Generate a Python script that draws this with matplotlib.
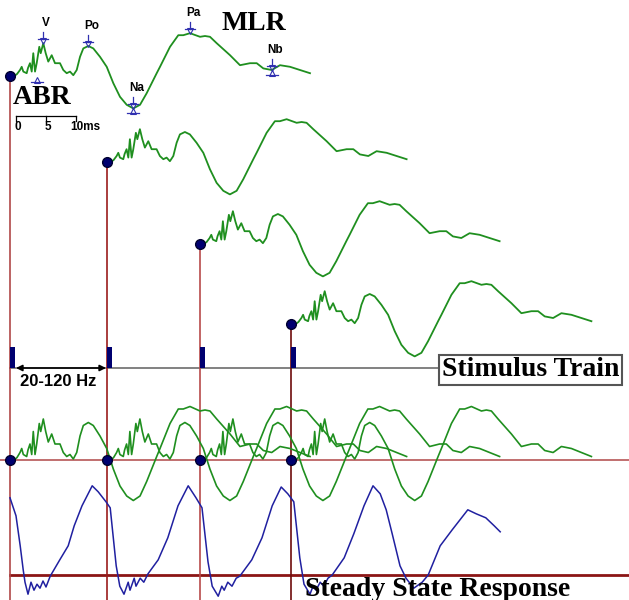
import matplotlib.pyplot as plt

# MLR template: latency (ms) and amplitude (uV)
mlr_ms = [0.0, 0.55, 1.17, 1.67, 1.95, 2.22, 2.78, 3.0, 3.33, 3.62, 3.88, 4.17,
          4.45, 4.88, 5.12, 5.55, 5.95, 6.38, 6.95, 7.5, 8.33, 8.88, 9.45, 10.0,
          10.55, 11.12, 11.67, 12.22, 13.05, 13.88, 15.0, 16.12, 17.22, 18.33,
          19.45, 20.55, 21.67, 22.78, 24.45, 25.0, 26.67, 28.05, 28.88, 30.0,
          31.67, 32.5, 33.33, 34.45, 36.67, 38.33, 40.0, 41.12, 42.22, 43.62,
          45.0, 46.67, 48.33, 50.0]
mlr_amp = [0.0, -0.02, 0.05, 0.15, 0.23, 0.11, 0.07, 0.2, 0.32, 0.11, 0.57, 0.11,
           0.32, 0.73, 0.57, 0.82, 0.57, 0.36, 0.52, 0.32, 0.32, 0.15, 0.07, 0.11,
           0.02, 0.15, 0.48, 0.69, 0.75, 0.69, 0.48, 0.23, -0.18, -0.52,
           -0.72, -0.81, -0.72, -0.43, 0.07, 0.23, 0.73, 1.02, 1.02, 1.07,
           0.98, 1.0, 0.98, 0.82, 0.52, 0.27, 0.32, 0.32, 0.19, 0.15,
           0.27, 0.23, 0.15, 0.07]

# stimulus onsets in the train (ms after first click)
stim_ms = [0.0, 16.1, 31.6, 46.9]

# labelled peaks on the top trace
peak_names = ["V", "Po", "Na", "Pa", "Nb"]
peak_ms = [5.55, 13.05, 20.55, 30.0, 43.6]
peak_amp = [0.82, 0.75, -0.81, 1.07, 0.15]
# markers under the trace
trough_ms = [4.5, 20.55, 43.6]
trough_amp = [-0.03, -0.81, 0.15]

# steady state response (sum of overlapping MLRs)
ssr_ms = [0.0, 1.0, 1.7, 2.2, 2.5, 3.0, 3.5, 4.0, 4.5, 5.0, 5.5, 6.0, 6.7, 8.3,
          9.7, 10.7, 12.0, 13.7, 14.7, 16.0, 16.7, 17.7, 18.3, 19.0, 19.7, 20.0,
          20.7, 21.0, 21.7, 22.3, 23.0, 24.7, 26.3, 28.0, 29.7, 31.0, 32.0, 33.0,
          33.7, 34.7, 35.3, 35.7, 36.3, 37.0, 37.7, 38.3, 40.3, 42.0, 43.7, 45.2,
          46.3, 47.3, 48.3, 49.0, 50.0, 50.5, 51.0, 51.7, 52.3, 53.0, 53.7, 55.7,
          57.3, 59.0, 60.5, 61.7, 62.7, 63.7, 65.0, 66.0, 67.3, 68.7, 69.7, 71.7,
          73.7, 76.3, 77.7, 79.3, 80.7, 81.7]
ssr_amp = [1.93, 1.48, 0.73, 0.13, -0.18, -0.48, -0.18, -0.38, -0.23, -0.33, -0.15,
           -0.3, -0.03, 0.38, 0.73, 1.23, 1.73, 2.23, 2.08, 1.83, 1.68, 0.23, -0.28,
           -0.48, -0.18, -0.38, -0.08, -0.28, -0.08, -0.18, 0.03, 0.38, 0.93, 1.73,
           2.23, 1.93, 1.68, 0.33, -0.28, -0.53, -0.28, -0.38, -0.18, -0.28, -0.08,
           -0.03, 0.38, 0.93, 1.73, 2.2, 2.03, 1.83, 0.43, -0.23, -0.48, -0.28,
           -0.38, -0.18, -0.28, -0.08, 0.0, 0.43, 1.03, 1.73, 2.23, 2.03, 1.63,
           1.03, 0.23, -0.08, -0.33, -0.18, 0.0, 0.73, 1.13, 1.63, 1.53, 1.43,
           1.23, 1.08]

scale_ticks = [0, 5, 10]
scale_labels = ["0", "5", "10ms"]

# layout (pixel space of the figure)
X0 = 10
PX_MS = 6
PX_UV = 40
row_base = [76, 162, 244, 324]
SUPER_BASE = 460
SUPER_PX_UV = 50
SSR_BASE = 575
STIM_Y = 368

green = "#1f8f1f"
navy = "#000070"
serif = "Liberation Serif"
sans = "Liberation Sans"


def xpos(ms, onset=0.0):
    return [X0 + PX_MS * (onset + m) for m in ms]


def ypos(amp, base, scale=PX_UV):
    return [base - scale * a for a in amp]


fig = plt.figure(figsize=(6.29, 6.0), dpi=100)
ax = fig.add_axes([0, 0, 1, 1])
ax.set_xlim(0, 629)
ax.set_ylim(600, 0)
ax.axis("off")

# horizontal reference lines
ax.plot([0, 629], [SUPER_BASE, SUPER_BASE], color="#b04848", lw=1.1, zorder=1)
ax.plot([X0, 629], [SSR_BASE, SSR_BASE], color="#8b1515", lw=2.0, zorder=1)
ax.plot([X0, 438], [STIM_Y, STIM_Y], color="#777777", lw=1.3, zorder=1)

# onsets: vertical lines, individual MLRs, dots
line_cols = ["#b04848", "#9b1c1c", "#b84a4a", "#6e0c0c"]
for i, on in enumerate(stim_ms):
    x = X0 + PX_MS * on
    ax.plot([x, x], [row_base[i], 600], color=line_cols[i], lw=1.2, zorder=1)
    ax.plot(xpos(mlr_ms, on), ypos(mlr_amp, row_base[i]), color=green, lw=1.3, zorder=2)
    ax.plot(xpos(mlr_ms, on), ypos(mlr_amp, SUPER_BASE, SUPER_PX_UV),
            color=green, lw=1.2, zorder=2)
    ax.plot(x, row_base[i], "o", ms=7, color=navy, mec="#000030", zorder=4)
    ax.plot(x, SUPER_BASE, "o", ms=7, color=navy, mec="#000030", zorder=4)

# stimulus pulses
ax.bar(xpos(stim_ms), height=-21, bottom=STIM_Y, width=5, align="edge",
       color=navy, zorder=3)

# steady state response
ax.plot(xpos(ssr_ms), ypos(ssr_amp, SSR_BASE), color="#2020a0", lw=1.1, zorder=2)

# peak markers on the top trace
mark_col = "#3030b0"
for name, m, a in zip(peak_names, peak_ms, peak_amp):
    x = X0 + PX_MS * m
    y = row_base[0] - PX_UV * a
    ax.plot([x, x], [y - 11, y - 4], color=mark_col, lw=0.9, zorder=5)
    ax.plot([x - 5, x + 5], [y - 4, y - 4], color=mark_col, lw=0.9, zorder=5)
    ax.plot(x, y - 2, "v", ms=4.5, mfc="none", mec=mark_col, mew=0.8, zorder=5)
    ax.text(x + 3, y - 20, name, fontsize=8.5, fontweight="bold", family=sans,
            ha="center", va="center", color="black")
for m, a in zip(trough_ms, trough_amp):
    x = X0 + PX_MS * m
    y = row_base[0] - PX_UV * a
    ax.plot(x, y + 2.5, "^", ms=4.5, mfc="none", mec=mark_col, mew=0.8, zorder=5)
    ax.plot([x - 6, x + 6], [y + 4.5, y + 4.5], color=mark_col, lw=0.9, zorder=5)

# ms scale bar
sb_x = [16 + PX_MS * t for t in scale_ticks]
ax.plot([sb_x[0], sb_x[-1]], [116, 116], color="black", lw=0.9)
for xx, lab in zip(sb_x, scale_labels):
    ax.plot([xx, xx], [116, 121], color="black", lw=0.9)
    if lab == "10ms":
        ax.text(xx - 6, 127, lab, fontsize=8.5, fontweight="bold", family=sans,
                ha="left", va="center")
    else:
        ax.text(xx + 2, 127, lab, fontsize=8.5, fontweight="bold", family=sans,
                ha="center", va="center")

# frequency arrow
ax.annotate("", xy=(16, STIM_Y), xytext=(106, STIM_Y),
            arrowprops=dict(arrowstyle="<|-|>", color="black", lw=1.2,
                            mutation_scale=9, shrinkA=0, shrinkB=0))
ax.text(20, 382, "20-120 Hz", fontsize=12, fontweight="bold", family=sans,
        ha="left", va="center")

# big labels
ax.text(222, 23, "MLR", fontsize=20, fontweight="bold", family=serif, va="center")
ax.text(13, 97, "ABR", fontsize=20, fontweight="bold", family=serif, va="center")
ax.text(442, 370, "Stimulus Train", fontsize=20, fontweight="bold", family=serif,
        va="center", ha="left",
        bbox=dict(boxstyle="square,pad=0.1", fc="white", ec="#555555", lw=1.5))
ax.text(305, 589, "Steady State Response", fontsize=20, fontweight="bold",
        family=serif, va="center", ha="left")

fig.savefig("out.png", dpi=100)
